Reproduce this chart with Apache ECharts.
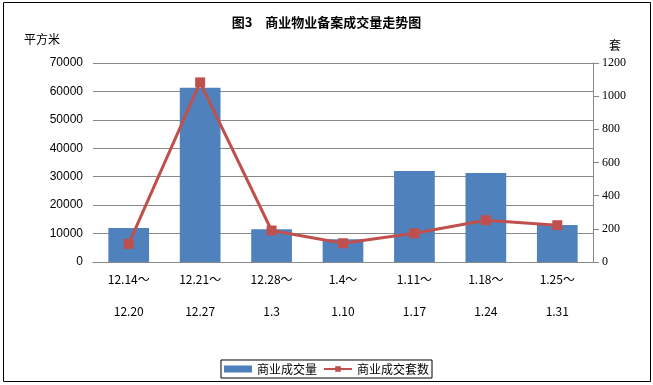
<!DOCTYPE html>
<html><head><meta charset="utf-8">
<script src="https://cdn.jsdelivr.net/npm/echarts@6/dist/echarts.min.js"></script>
<style>html,body{margin:0;padding:0;background:#fff}#c{width:653px;height:385px}</style>
</head><body><div id="c"></div>
<script>
const categories = ['12.14～\n\n12.20','12.21～\n\n12.27','12.28～\n\n1.3','1.4～\n\n1.10','1.11～\n\n1.17','1.18～\n\n1.24','1.25～\n\n1.31'];
const areaValues = [12000, 61300, 11500, 8000, 32000, 31300, 13000];
const unitValues = [109, 1083, 190, 113, 173, 252, 222];
const font = '"Noto Sans CJK SC", sans-serif';
const chart = echarts.init(document.getElementById('c'));
chart.setOption({
  animation: false,
  backgroundColor: '#fff',
  title: {text: '图3　商业物业备案成交量走势图', left: 'center', top: 11,
    textStyle: {fontSize: 13, fontWeight: 'bold', color: '#000', fontFamily: font}},
  graphic: [{type: 'rect', shape: {x: 3.5, y: 2.5, width: 647, height: 379},
    style: {fill: null, stroke: '#000', lineWidth: 1}, silent: true}],
  legend: {bottom: 7, left: 'center', itemWidth: 28, itemHeight: 7, itemGap: 6,
    borderColor: '#000', borderWidth: 1, borderRadius: 0, padding: [3, 3],
    textStyle: {fontSize: 12, color: '#000', fontFamily: font},
    data: [{name: '商业成交量', icon: 'rect'}, {name: '商业成交套数'}]},
  grid: {left: 93, right: 60, top: 63, bottom: 123},
  xAxis: {type: 'category', data: categories,
    axisLine: {lineStyle: {color: '#888'}}, axisTick: {show: false},
    axisLabel: {color: '#000', fontSize: 12, margin: 9, lineHeight: 16, fontFamily: font}},
  yAxis: [
    {type: 'value', min: 0, max: 70000, interval: 10000, name: '平方米',
     nameLocation: 'end', nameGap: 18, nameTextStyle: {color: '#000', fontSize: 12, fontFamily: font, align: 'right', padding: [0, 33, 0, 0]},
     axisLine: {show: false}, axisTick: {show: false},
     splitLine: {lineStyle: {color: '#888'}},
     axisLabel: {color: '#000', fontSize: 12, margin: 10, fontFamily: '"Liberation Sans", sans-serif',
       formatter: v => String(v)}},
    {type: 'value', min: 0, max: 1200, interval: 200, name: '套',
     nameLocation: 'end', nameGap: 12, nameTextStyle: {color: '#000', fontSize: 12, fontFamily: font, padding: [0, 0, 0, 44]},
     axisLine: {show: true, lineStyle: {color: '#888'}}, axisTick: {show: true, length: 6, lineStyle: {color: '#888'}},
     splitLine: {show: false},
     axisLabel: {color: '#000', fontSize: 12, margin: 9, fontFamily: '"Liberation Serif", serif',
       formatter: v => String(v)}}
  ],
  series: [
    {name: '商业成交量', type: 'bar', data: areaValues, barWidth: '57%',
     itemStyle: {color: '#4f81bd'}},
    {name: '商业成交套数', type: 'line', yAxisIndex: 1, data: unitValues,
     symbol: 'rect', symbolSize: 10, lineStyle: {color: '#c0504d', width: 3},
     itemStyle: {color: '#c0504d'}}
  ]
});
</script></body></html>
